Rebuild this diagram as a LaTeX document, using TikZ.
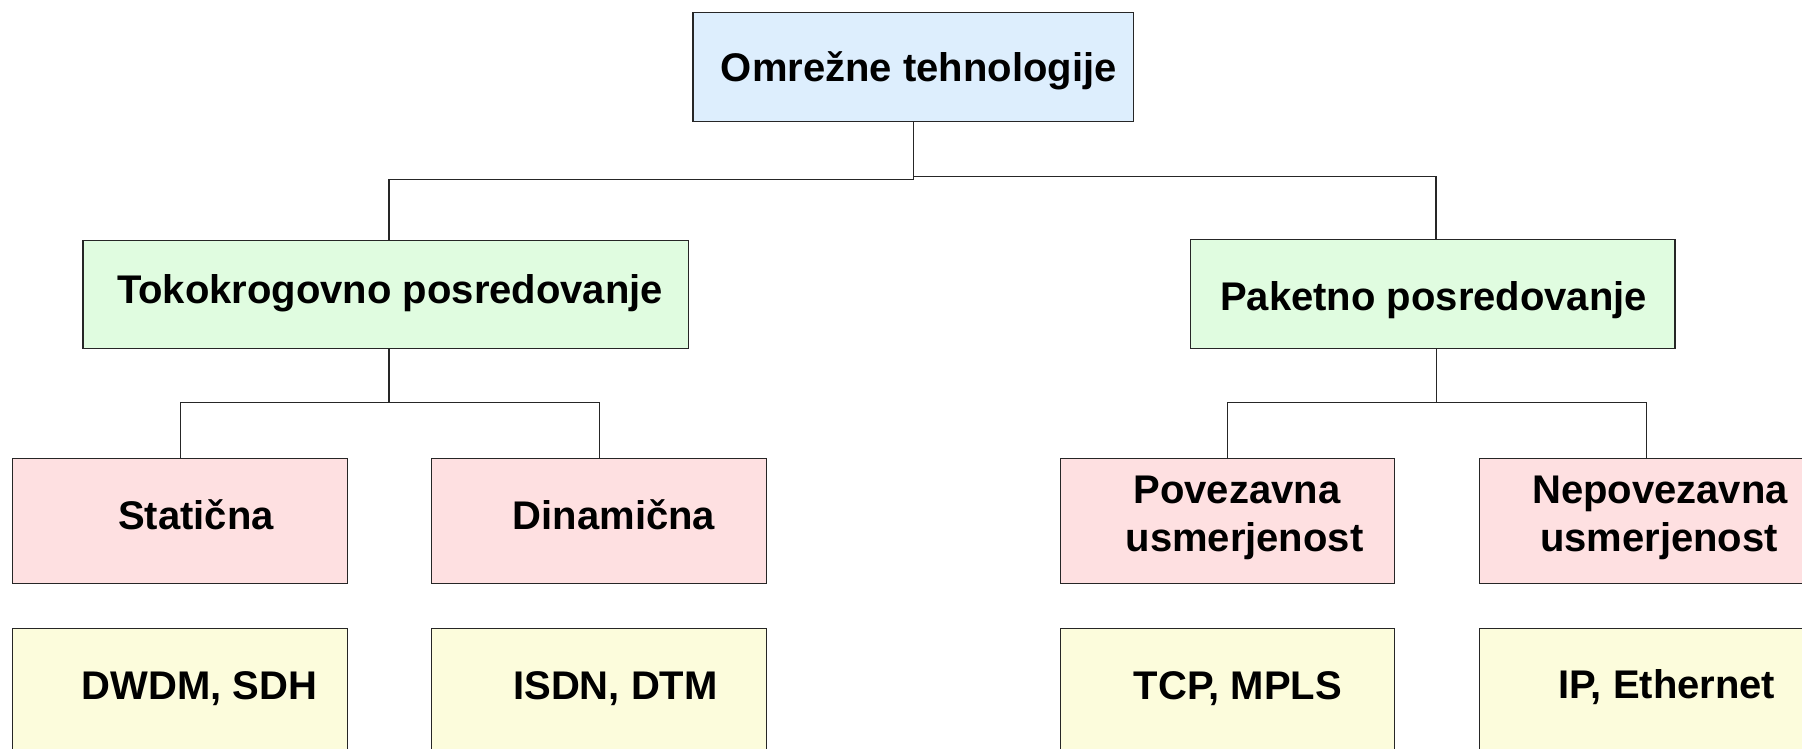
\documentclass[tikz,border=0pt]{standalone}
\usepackage{fontspec}
\setmainfont{Liberation Sans}
\definecolor{linecol}{HTML}{262626}
\definecolor{rootfill}{HTML}{DDEEFD}
\definecolor{midfill}{HTML}{E0FCE0}
\definecolor{subfill}{HTML}{FEE0E1}
\definecolor{techfill}{HTML}{FCFCDC}
\begin{document}
\begin{tikzpicture}[x=1pt,y=-1pt,
  box/.style={draw=linecol, line width=1.2pt, rectangle, inner sep=0pt, outer sep=0pt, anchor=north west},
  lbl/.style={anchor=base, inner sep=0pt, font=\fontsize{40}{48}\selectfont\bfseries},
  wire/.style={draw=linecol, line width=1.2pt}]
\useasboundingbox (0,0) rectangle (1802,749);
\clip (0,0) rectangle (1802,749);

% level 0
\node[box, fill=rootfill, minimum width=440.5pt, minimum height=109pt] (root) at (693,12.6) {};
% level 1
\node[box, fill=midfill, minimum width=605.5pt, minimum height=108pt] (toko) at (83,240.3) {};
\node[box, fill=midfill, minimum width=484.3pt, minimum height=109pt] (paket) at (1190.7,239.3) {};
% level 2
\node[box, fill=subfill, minimum width=335.4pt, minimum height=125.4pt] (stat) at (12.4,458.3) {};
\node[box, fill=subfill, minimum width=334.9pt, minimum height=125.4pt] (dina) at (431.8,458.3) {};
\node[box, fill=subfill, minimum width=334.3pt, minimum height=125.4pt] (pove) at (1060.4,458.3) {};
\node[box, fill=subfill, minimum width=335pt, minimum height=125.4pt] (nepo) at (1479.3,458.3) {};
% technologies
\node[box, fill=techfill, minimum width=335.4pt, minimum height=140pt] (statT) at (12.4,628.7) {};
\node[box, fill=techfill, minimum width=334.9pt, minimum height=140pt] (dinaT) at (431.8,628.7) {};
\node[box, fill=techfill, minimum width=334.3pt, minimum height=140pt] (poveT) at (1060.4,628.7) {};
\node[box, fill=techfill, minimum width=335pt, minimum height=140pt] (nepoT) at (1479.3,628.7) {};

% connectors
\draw[wire] (root.south) -- ++(0,57.5) -| ([xshift=3.2pt]toko.north);
\draw[wire] (root.south) -- ++(0,54.7) -| ([xshift=3.1pt]paket.north);
\draw[wire] ([xshift=3.2pt]toko.south) -- ++(0,54) coordinate (tj);
\draw[wire] (stat.north) |- (tj) -| (dina.north);
\draw[wire] ([xshift=3.4pt]paket.south) -- ++(0,54) coordinate (pj);
\draw[wire] (pove.north) |- (pj) -| (nepo.north);

% labels
\node[lbl] (rootL) at (918.7,82) {Omrežne tehnologije};
\node[lbl] (tokoL) at (390,303.3) {Tokokrogovno posredovanje};
\node[lbl] (paketL) at (1433.6,310) {Paketno posredovanje};
\node[lbl] (statL) at (196,529.3) {Statična};
\node[lbl] (dinaL) at (614,529.3) {Dinamična};
\node[lbl] (poveL) at (1237,503.5) {Povezavna};
\node[lbl] (poveL2) at (1244.5,551.7) {usmerjenost};
\node[lbl] (nepoL) at (1660,503.5) {Nepovezavna};
\node[lbl] (nepoL2) at (1659,551.7) {usmerjenost};
\node[lbl] (statTL) at (199.5,699.3) {DWDM, SDH};
\node[lbl] (dinaTL) at (615.5,699.3) {ISDN, DTM};
\node[lbl] (poveTL) at (1238,699.3) {TCP, MPLS};
\node[lbl] (nepoTL) at (1666.7,698.5) {IP, Ethernet};
\end{tikzpicture}
\end{document}
